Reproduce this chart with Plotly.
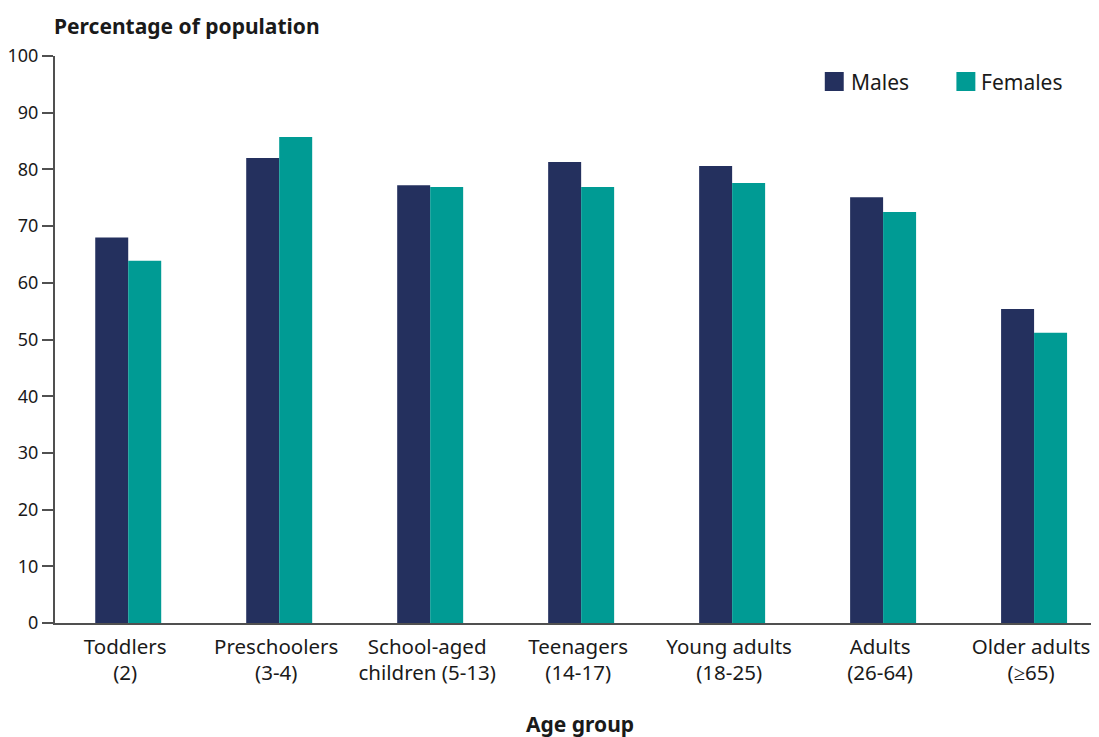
import plotly.graph_objects as go

categories = ["Toddlers<br>(2)", "Preschoolers<br>(3-4)", "School-aged<br>children (5-13)",
              "Teenagers<br>(14-17)", "Young adults<br>(18-25)", "Adults<br>(26-64)", "Older adults<br>(≥65)"]
males = [68.0, 82.0, 77.2, 81.3, 80.6, 75.1, 55.4]
females = [63.9, 85.7, 76.9, 76.9, 77.6, 72.5, 51.2]
y_ticks = [0, 10, 20, 30, 40, 50, 60, 70, 80, 90, 100]

NAVY = "#24305E"
TEAL = "#009B94"
FONT = "Noto Sans"
TXT = "#1a1a1a"
AXIS = "#505050"

OFF = 8  # default page body margin
W, H = 1099 - OFF, 737 - OFF
ML, MR, MT, MB = 52 - OFF, 0, 56 - OFF, 737 - 623

def px_x(p):
    return (p - OFF - ML) / (W - ML - MR)

def px_y(p):
    return 1 - (p - OFF - MT) / (H - MT - MB)

fig = go.Figure()
fig.add_trace(go.Bar(x=list(range(len(categories))), y=males, name="Males", marker_color=NAVY,
                     marker_line_width=0, showlegend=False))
fig.add_trace(go.Bar(x=list(range(len(categories))), y=females, name="Females", marker_color=TEAL,
                     marker_line_width=0, showlegend=False))

fig.update_layout(
    width=W, height=H,
    margin=dict(l=ML, r=MR, t=MT, b=MB, pad=0),
    paper_bgcolor="white", plot_bgcolor="white",
    barmode="group", bargap=0.563, bargroupgap=0,
    font=dict(family=FONT, size=18, color=TXT),
    xaxis=dict(
        tickmode="array", tickvals=list(range(len(categories))), ticktext=categories,
        range=[-0.485, 6.43], showgrid=False, zeroline=False,
        showline=True, linecolor=AXIS, linewidth=2, ticks="",
        ticklabelstandoff=4, ticklabelshift=-3,
        tickfont=dict(family=FONT, size=20.5, color=TXT),
    ),
    yaxis=dict(
        range=[0, 100], tickvals=y_ticks, showgrid=False, zeroline=False,
        showline=True, linecolor=AXIS, linewidth=2,
        ticks="outside", ticklen=11, tickwidth=1.5, tickcolor=AXIS,
        tickfont=dict(family=FONT, size=18, color=TXT),
    ),
    annotations=[
        dict(text="<b>Percentage of population</b>", xref="paper", yref="paper",
             x=px_x(49), y=px_y(26),
             xanchor="left", yanchor="middle", showarrow=False,
             font=dict(family=FONT, size=21, color=TXT)),
        dict(text="<b>Age group</b>", xref="paper", yref="paper",
             x=px_x(579), y=px_y(724),
             xanchor="center", yanchor="middle", showarrow=False,
             font=dict(family=FONT, size=21, color=TXT)),
        dict(text="Males", xref="paper", yref="paper",
             x=px_x(848), y=px_y(82),
             xanchor="left", yanchor="middle", showarrow=False,
             font=dict(family=FONT, size=21, color=TXT)),
        dict(text="Females", xref="paper", yref="paper",
             x=px_x(979), y=px_y(82),
             xanchor="left", yanchor="middle", showarrow=False,
             font=dict(family=FONT, size=21, color=TXT)),
    ],
)

fig.add_shape(type="rect", xref="paper", yref="paper", x0=px_x(824), x1=px_x(843),
              y0=px_y(91), y1=px_y(72), fillcolor=NAVY, line_width=0)
fig.add_shape(type="rect", xref="paper", yref="paper", x0=px_x(956), x1=px_x(975),
              y0=px_y(91), y1=px_y(72), fillcolor=TEAL, line_width=0)

fig.write_html("out.html")
